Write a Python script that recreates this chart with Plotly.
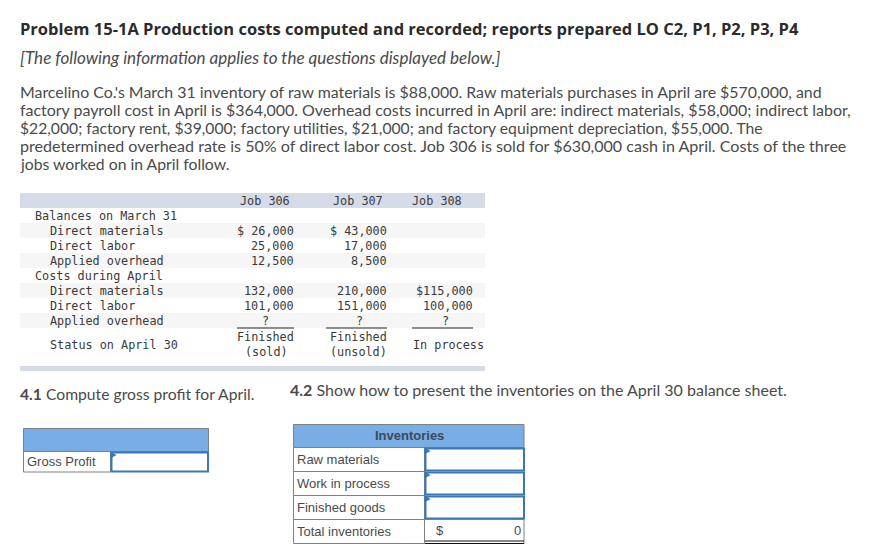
import plotly.graph_objects as go

# text of the problem
title = "Problem 15-1A Production costs computed and recorded; reports prepared LO C2, P1, P2, P3, P4"
subtitle = "[The following information applies to the questions displayed below.]"
paragraph = [
    "Marcelino Co.'s March 31 inventory of raw materials is $88,000. Raw materials purchases in April are $570,000, and",
    "factory payroll cost in April is $364,000. Overhead costs incurred in April are: indirect materials, $58,000; indirect labor,",
    "$22,000; factory rent, $39,000; factory utilities, $21,000; and factory equipment depreciation, $55,000. The",
    "predetermined overhead rate is 50% of direct labor cost. Job 306 is sold for $630,000 cash in April. Costs of the three",
    "jobs worked on in April follow.",
]

# job cost table
jobs = ["Job 306", "Job 307", "Job 308"]
row_labels = ["Balances on March 31", "  Direct materials", "  Direct labor", "  Applied overhead",
              "Costs during April", "  Direct materials", "  Direct labor", "  Applied overhead"]
job_306 = ["", "$ 26,000", "25,000", "12,500", "", "132,000", "101,000", "?"]
job_307 = ["", "$ 43,000", "17,000", "8,500", "", "210,000", "151,000", "?"]
job_308 = ["", "", "", "", "", "$115,000", "100,000", "?"]
status_label = "Status on April 30"
status_306 = ["Finished", "(sold)"]
status_307 = ["Finished", "(unsold)"]
status_308 = "In process"

# answer tables
q1_text = "Compute gross profit for April."
q2_text = "Show how to present the inventories on the April 30 balance sheet."
inventory_rows = ["Raw materials", "Work in process", "Finished goods", "Total inventories"]

SANS = "Lato"
MONO = "DejaVu Sans Mono"
ARIAL = "Liberation Sans"
DARK = "#2b2b2b"
GREY = "#4a4a4a"
MONO_GREY = "#3a3a3a"
CELL_BLUE = "#79ade5"
INPUT_BLUE = "#3b76b5"
BORDER = "#808080"

fig = go.Figure()


def text(x, y, s, size=15.95, color=GREY, family=SANS, anchor="left"):
    fig.add_annotation(x=x, y=y, text=s, xref="x", yref="y", showarrow=False,
                       xanchor=anchor, yanchor="middle", align=anchor,
                       font=dict(family=family, size=size, color=color),
                       borderpad=0, borderwidth=0)


def rect(x0, y0, x1, y1, fill=None, line=None, width=1):
    fig.add_shape(type="rect", x0=x0, y0=y0, x1=x1, y1=y1, layer="below",
                  fillcolor=fill if fill else "rgba(0,0,0,0)",
                  line=dict(color=line if line else "rgba(0,0,0,0)", width=width if line else 0))


def hline(x0, x1, y, color="#222222", width=1):
    fig.add_shape(type="line", x0=x0, x1=x1, y0=y, y1=y, layer="below", line=dict(color=color, width=width))


def input_cell(x0, y0, x1, y1):
    rect(x0, y0, x1, y1, fill="white", line=INPUT_BLUE, width=2)
    fig.add_shape(type="path", path=f"M {x0 - 1} {y0 - 1} L {x0 + 5} {y0 + 2.5} L {x0 - 1} {y0 + 6} Z",
                  fillcolor=INPUT_BLUE, line=dict(width=0), layer="above")


# heading
text(20, 28, f"<b>{title}</b>", size=16.5, color=DARK, family="Open Sans")
text(20, 57, f"<i>{subtitle}</i>", size=17.05)
# widths differ a little line by line from the original face
line_sizes = [15.9, 15.95, 15.7, 16.1, 15.75]
for i, line in enumerate(paragraph):
    text(20, 91.5 + i * 18, line, size=line_sizes[i])

# job table background
rect(20, 193, 485, 208, fill="#d5dbe8")
rect(20, 366, 485, 371, fill="#d5dbe8")
for y in [223, 253, 283, 313]:
    rect(20, y, 485, y + 15, fill="#f6f6f6")

MONO_SIZE = 11.8
job_right = [293.5, 387, 473]
text(240, 200.5, jobs[0], size=MONO_SIZE, family=MONO, color=MONO_GREY)
text(333, 200.5, jobs[1], size=MONO_SIZE, family=MONO, color=MONO_GREY)
text(412, 200.5, jobs[2], size=MONO_SIZE, family=MONO, color=MONO_GREY)

for i, label in enumerate(row_labels):
    y = 215.5 + i * 15
    x = 50 if label.startswith("  ") else 35
    text(x, y, label.strip(), size=MONO_SIZE, family=MONO, color=MONO_GREY)
    for col, r in zip([job_306, job_307, job_308], job_right):
        if col[i] == "?":
            text(r - 28, y, "?", size=MONO_SIZE, family=MONO, color=MONO_GREY, anchor="center")
        elif col[i]:
            text(r, y, col[i], size=MONO_SIZE, family=MONO, color=MONO_GREY, anchor="right")

hline(237, 294, 328)
hline(326, 387, 328)
hline(412, 473, 328)

text(50, 344.5, status_label, size=MONO_SIZE, family=MONO, color=MONO_GREY)
text(293.5, 337, status_306[0], size=MONO_SIZE, family=MONO, color=MONO_GREY, anchor="right")
text(266, 352, status_306[1], size=MONO_SIZE, family=MONO, color=MONO_GREY, anchor="center")
text(387, 337, status_307[0], size=MONO_SIZE, family=MONO, color=MONO_GREY, anchor="right")
text(358, 352, status_307[1], size=MONO_SIZE, family=MONO, color=MONO_GREY, anchor="center")
text(413, 344.5, status_308, size=MONO_SIZE, family=MONO, color=MONO_GREY)

# question lines
text(20, 394, f"<b>4.1</b> {q1_text}", size=15.7)
text(290, 389.5, f"<b>4.2</b> {q2_text}", size=16)

# gross profit table
rect(23.5, 428.5, 208.5, 451.5, fill=CELL_BLUE, line=BORDER)
rect(23.5, 451.5, 110.5, 472, fill="white", line=BORDER)
input_cell(111.5, 452.5, 208, 471.5)
text(27, 461, "Gross Profit", size=13, family=ARIAL, color=GREY)

# inventories table
rect(293.5, 424.5, 524, 447.5, fill=CELL_BLUE, line=BORDER)
text(409, 435.5, "<b>Inventories</b>", size=13, family=ARIAL, color="#3a4a5a", anchor="center")
row_tops = [447.5, 471.5, 495.5, 519.5]
for label, top in zip(inventory_rows, row_tops):
    rect(293.5, top, 424.5, top + 24, fill="white", line=BORDER)
    text(297, top + 11.5, label, size=13, family=ARIAL, color=GREY)
for top in row_tops[:3]:
    input_cell(425.5, top + 1, 524, top + 23)
rect(424.5, 519.5, 524, 543.5, fill="white", line=BORDER)
text(436, 530.5, "$", size=13, family=ARIAL, color=GREY)
text(521, 530.5, "0", size=13, family=ARIAL, color=GREY, anchor="right")
hline(425, 524, 541, color="#111111")
hline(425, 524, 543.5, color="#111111")

# the page body has an 8px margin, so the axes start at pixel 8
fig.update_layout(
    width=869, height=548,
    margin=dict(l=0, r=0, t=0, b=0),
    paper_bgcolor="white", plot_bgcolor="white",
    showlegend=False,
    xaxis=dict(range=[8, 877], visible=False, fixedrange=True),
    yaxis=dict(range=[556, 8], visible=False, fixedrange=True),
)

fig.write_html("out.html")
